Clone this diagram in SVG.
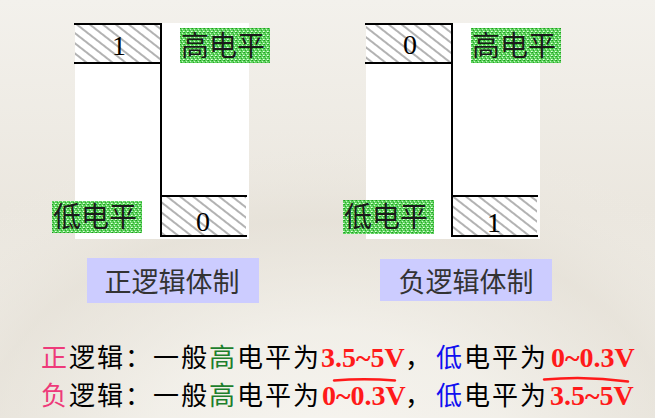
<svg xmlns="http://www.w3.org/2000/svg" width="655" height="418" viewBox="0 0 655 418">
<defs>
<linearGradient id="bg" x1="0" y1="0" x2="0" y2="1">
<stop offset="0" stop-color="#f3f1ec"/>
<stop offset="0.5" stop-color="#ebe7df"/>
<stop offset="1" stop-color="#efece5"/>
</linearGradient>
<radialGradient id="fan" cx="0.5" cy="1.05" r="0.75">
<stop offset="0" stop-color="#f7f5f0" stop-opacity="0.9"/>
<stop offset="0.35" stop-color="#f4f2ec" stop-opacity="0.6"/>
<stop offset="0.7" stop-color="#e2ddd3" stop-opacity="0.5"/>
<stop offset="1" stop-color="#f0ede7" stop-opacity="0"/>
</radialGradient>
<pattern id="hatch" width="8" height="8" patternUnits="userSpaceOnUse" patternTransform="rotate(38)">
<rect width="8" height="8" fill="#ffffff"/>
<line x1="0" y1="4" x2="8" y2="4" stroke="#555" stroke-width="0.9"/>
</pattern>
<pattern id="dots" width="4" height="4" patternUnits="userSpaceOnUse">
<rect width="4" height="4" fill="#5fd35f"/>
<rect x="0" y="0" width="1" height="1" fill="#1f9a1f"/>
<rect x="2" y="1" width="1" height="1" fill="#c8f5c8"/>
<rect x="1" y="2" width="1" height="1" fill="#2aa82a"/>
<rect x="3" y="3" width="1" height="1" fill="#e6ffe6"/>
<rect x="3" y="0" width="1" height="1" fill="#39b839"/>
<rect x="0" y="3" width="1" height="1" fill="#a9eca9"/>
</pattern>
</defs>
<style>
.edge{stroke:#000;stroke-width:2;fill:none;stroke-linecap:square}
.digit{font-family:"Liberation Serif","Times New Roman",serif;font-size:28px;fill:#000;text-anchor:middle}
.lvl{font-family:"Noto Sans CJK SC","Noto Sans CJK JP",sans-serif;font-size:28px;fill:#1a1a1a}
.cap{fill:#ccccff}
.capt{font-family:"Noto Sans CJK SC","Noto Sans CJK JP",sans-serif;font-size:27px;fill:#333;text-anchor:middle}
.line{font-family:"Noto Sans CJK SC","Noto Sans CJK JP",sans-serif;font-size:26px;letter-spacing:2px;fill:#000}
.num{font-family:"Liberation Serif","Times New Roman",serif;font-weight:bold;fill:#ff1a1a;font-size:28px;letter-spacing:0}
.pink{fill:#ee3a7a}
.green{fill:#1d7f2c}
.blue{fill:#1010f0}
.over{stroke:#ff1a1a;stroke-width:2.5;fill:none;stroke-linecap:round}
</style>
<rect width="655" height="418" fill="url(#bg)"/>
<rect width="655" height="418" fill="url(#fan)"/>

<g id="panel-positive">
<rect x="75" y="23" width="174" height="216" fill="#ffffff"/>
<rect x="75" y="24" width="86" height="39" fill="url(#hatch)"/>
<rect x="161" y="196" width="85" height="40" fill="url(#hatch)"/>
<path class="edge" d="M75 24H161V236M75 63H161M161 196H246M161 236H246"/>
<text class="digit" x="119" y="55">1</text>
<text class="digit" x="203" y="231">0</text>
<g id="pos-high">
<rect x="180" y="28" width="90" height="35" fill="url(#dots)"/>
<text class="lvl" x="181" y="56">高电平</text>
</g>
<g id="pos-low">
<rect x="52" y="201" width="90" height="32" fill="url(#dots)"/>
<text class="lvl" x="53" y="227">低电平</text>
</g>
</g>

<g id="panel-negative">
<rect x="366" y="23" width="174" height="216" fill="#ffffff"/>
<rect x="366" y="24" width="86" height="39" fill="url(#hatch)"/>
<rect x="452" y="196" width="85" height="40" fill="url(#hatch)"/>
<path class="edge" d="M366 24H452V236M366 63H452M452 196H537M452 236H537"/>
<text class="digit" x="410" y="54">0</text>
<text class="digit" x="494" y="232">1</text>
<g id="neg-high">
<rect x="471" y="28" width="90" height="35" fill="url(#dots)"/>
<text class="lvl" x="472" y="56">高电平</text>
</g>
<g id="neg-low">
<rect x="343" y="200" width="91" height="34" fill="url(#dots)"/>
<text class="lvl" x="344" y="227">低电平</text>
</g>
</g>

<g id="caption-positive">
<rect class="cap" x="87" y="258" width="172" height="45"/>
<text class="capt" x="172" y="292">正逻辑体制</text>
</g>
<g id="caption-negative">
<rect class="cap" x="380" y="259" width="172" height="42"/>
<text class="capt" x="466" y="292">负逻辑体制</text>
</g>

<g id="notes">
<text class="line" y="367"><tspan class="pink" x="41">正</tspan><tspan>逻辑：一般</tspan><tspan class="green">高</tspan><tspan>电平为</tspan><tspan class="num" x="321">3.5~5V</tspan><tspan x="405">，</tspan><tspan class="blue" x="436">低</tspan><tspan>电平为</tspan><tspan class="num" x="551">0~0.3V</tspan></text>
<text class="line" y="405"><tspan class="pink" x="41">负</tspan><tspan>逻辑：一般</tspan><tspan class="green">高</tspan><tspan>电平为</tspan><tspan class="num" x="322">0~0.3V</tspan><tspan x="405">，</tspan><tspan class="blue" x="436">低</tspan><tspan>电平为</tspan><tspan class="num" x="550">3.5~5V</tspan></text>
<path class="over" d="M334 380.5Q364 378 395 380.5"/>
<path class="over" d="M544 379.5Q586 375.5 628 381.5"/>
</g>
</svg>
